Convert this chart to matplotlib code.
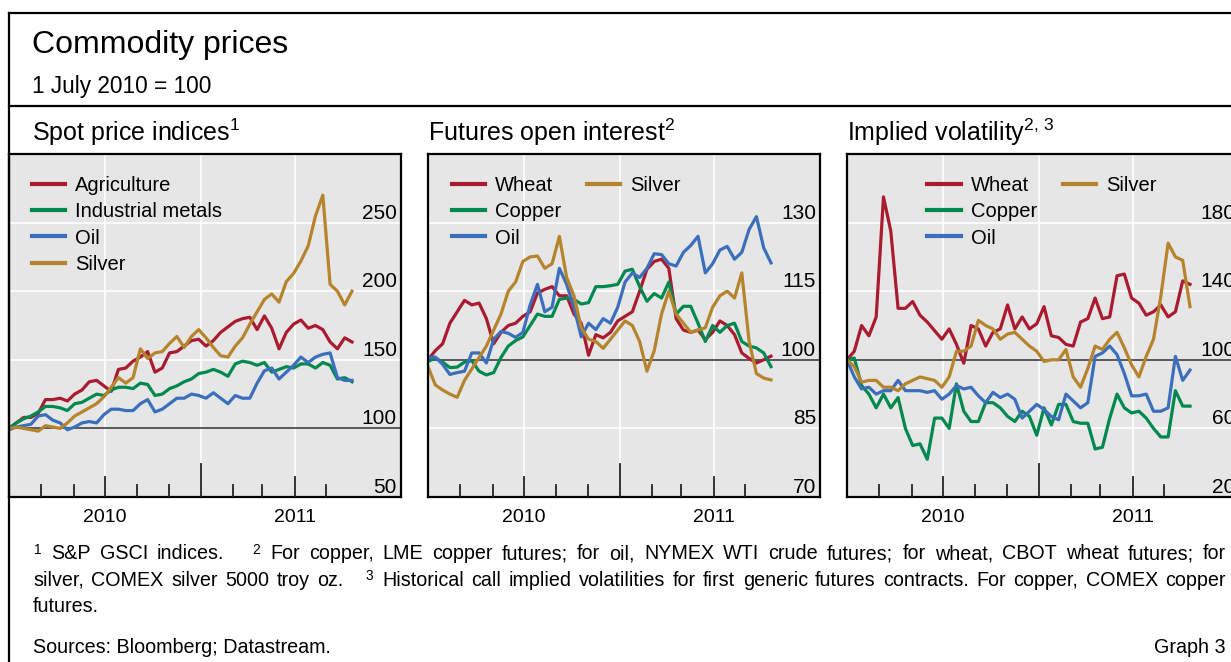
import matplotlib
matplotlib.use("Agg")
import matplotlib.pyplot as plt
import matplotlib.transforms as mtransforms
from matplotlib.lines import Line2D
import pandas as pd

plt.rcParams['font.family'] = ['Liberation Sans', 'DejaVu Sans']
plt.rcParams['mathtext.fontset'] = 'custom'
plt.rcParams['mathtext.rm'] = 'Liberation Sans'
plt.rcParams['mathtext.it'] = 'Liberation Sans:italic'
plt.rcParams['mathtext.bf'] = 'Liberation Sans:bold'

W, H = 1231, 662

# weekly observations, 1 July 2010 = 100
dates = pd.date_range("2010-07-01", periods=48, freq="7D")

# Spot price indices
spot_agriculture = [100, 104, 108, 108, 111, 121, 121, 122, 120, 125, 128, 134, 135, 131, 127, 143,
                    144, 149, 152, 156, 141, 144, 155, 156, 160, 164, 165, 160, 164, 170, 174, 178,
                    180, 181, 172, 182, 173, 158, 170, 176, 179, 173, 175, 172, 163, 158, 166, 163]
spot_metals = [100, 104, 107, 109, 112, 116, 116, 115, 113, 118, 119, 122, 125, 124, 128, 130,
               130, 129, 133, 132, 124, 125, 129, 131, 134, 136, 140, 141, 143, 141, 138, 147,
               149, 148, 146, 148, 141, 143, 145, 144, 147, 147, 144, 148, 146, 136, 137, 134]
spot_oil = [99, 101, 102, 103, 109, 110, 106, 104, 99, 101, 104, 105, 104, 110, 114, 114,
            113, 113, 118, 121, 112, 114, 118, 122, 122, 125, 124, 122, 126, 122, 118, 124,
            122, 122, 133, 142, 144, 136, 141, 146, 152, 148, 152, 154, 155, 137, 135, 135]
spot_silver = [100, 101, 100, 99, 98, 102, 101, 100, 104, 109, 112, 115, 118, 123, 130, 137,
               133, 137, 158, 151, 155, 156, 162, 167, 159, 167, 172, 166, 159, 153, 152, 160,
               166, 176, 185, 194, 198, 192, 207, 213, 222, 233, 255, 270, 205, 200, 190, 200]

# Futures open interest
oi_wheat = [100, 102, 103.5, 108, 110.5, 113, 112, 112.4, 109, 103.5, 106, 107.5, 108, 109.5, 110.5, 114.6,
            115.4, 116, 114, 114, 110, 108, 101, 105.5, 104.8, 106, 108.5, 109.5, 110.5, 115, 119.8, 121.5,
            122, 120, 109, 106.5, 106, 106.5, 104.4, 106, 108.5, 107.5, 105.5, 101.5, 100.3, 99.3, 100, 100.8]
oi_copper = [99.6, 100.4, 99.5, 98.3, 98.4, 99.5, 99.8, 97.5, 96.7, 97.2, 100.5, 103, 104.2, 105, 107.5, 110,
             109.5, 109.5, 113.2, 113.5, 113.2, 112.2, 112.5, 116, 116, 116.2, 116.5, 119.4, 119.8, 116, 112.8, 114.5,
             113.5, 117, 110, 111.7, 111.7, 108, 104, 107.5, 106, 107.5, 108, 104, 103, 102.6, 101.5, 98.5]
oi_oil = [100.4, 100.6, 99, 96.8, 97.2, 97.5, 101.5, 101.5, 99.3, 104.5, 106.2, 105.8, 104.9, 106, 112, 116.5,
          110.5, 111.5, 120, 116.5, 111.5, 105, 108, 106.6, 109, 108, 111.5, 117, 119, 118, 120, 123.2,
          123, 121, 120.5, 123.5, 125, 127, 119, 121, 124, 124.8, 122, 123.5, 128.5, 131.3, 124.5, 121.2]
oi_silver = [98.5, 94.5, 93.4, 92.5, 91.8, 95.5, 98, 100.5, 103, 106.5, 110, 115, 117, 121.5, 122.5, 122.7,
             120, 121, 127, 118, 114, 107, 104.5, 104, 102.5, 104.5, 106.5, 108.5, 107.5, 104, 97.5, 102,
             110, 115, 110, 108, 106, 106.5, 107, 111.5, 114, 115, 113.5, 119, 104, 97, 96, 95.6]

# Implied volatility
iv_wheat = [100, 105, 120, 114, 125, 195, 175, 130, 130, 134, 126, 122, 117, 112, 118, 109,
            98, 120, 118, 108, 116, 118, 132, 118, 125, 118, 121, 131, 114, 113, 109, 108,
            122, 124, 136, 124, 125, 149, 150, 136, 133, 126, 128, 132, 125, 128, 146, 144]
iv_copper = [100, 101, 85, 80, 72, 80, 72, 78, 60, 50, 51, 42, 66, 66, 60, 86,
             70, 64, 64, 75, 75, 72, 67, 64, 70, 67, 56, 72, 62, 74, 74, 64,
             63, 63, 48, 49, 66, 80, 72, 69, 70, 66, 60, 55, 55, 82, 73, 73]
iv_oil = [100, 90, 83, 84, 80, 82, 82, 88, 82, 82, 82, 81, 82, 77, 80, 85,
          83, 84, 79, 75, 81, 78, 80, 77, 66, 70, 74, 71, 67, 65, 80, 76,
          72, 75, 102, 104, 108, 103, 92, 79, 79, 80, 70, 70, 72, 102, 88, 94]
iv_silver = [100, 96, 87, 88, 88, 84, 84, 82, 86, 88, 90, 89, 88, 84, 90, 105,
             105, 108, 123, 120, 118, 112, 115, 116, 112, 108, 105, 99, 100, 100, 106, 90,
             84, 95, 108, 106, 112, 116, 107, 97, 90, 102, 112, 137, 168, 160, 158, 131]

panel_titles = [r"Spot price indices$^{1}$", r"Futures open interest$^{2}$",
                r"Implied volatility$^{2,\,3}$"]
yticks = [[50, 100, 150, 200, 250], [70, 85, 100, 115, 130], [20, 60, 100, 140, 180]]
ylims = [(50, 300), (70, 145), (20, 220)]
year_labels = ["2010", "2011"]

RED, GREEN, BLUE, GOLD = "#ab1b30", "#00894f", "#3b6fbc", "#b5842c"
BG = "#e6e6e6"

panels = [
    [("Agriculture", spot_agriculture, RED), ("Industrial metals", spot_metals, GREEN),
     ("Oil", spot_oil, BLUE), ("Silver", spot_silver, GOLD)],
    [("Wheat", oi_wheat, RED), ("Copper", oi_copper, GREEN),
     ("Oil", oi_oil, BLUE), ("Silver", oi_silver, GOLD)],
    [("Wheat", iv_wheat, RED), ("Copper", iv_copper, GREEN),
     ("Oil", iv_oil, BLUE), ("Silver", iv_silver, GOLD)],
]
lefts = [9, 428, 847]
legend_x = [0.058, 0.06, 0.205]

fig = plt.figure(figsize=(W / 100, H / 100), dpi=100)
fig.patch.set_facecolor("white")

month_ticks = pd.date_range("2010-08-01", "2011-05-01", freq="MS")
quarters = pd.to_datetime(["2010-10-01", "2011-01-01", "2011-04-01"])

for i, series in enumerate(panels):
    ax = fig.add_axes([lefts[i] / W, 1 - 497 / H, 392 / W, 343 / H])
    ax.set_facecolor(BG)
    for sp in ax.spines.values():
        sp.set_linewidth(1.6)
        sp.set_color("black")
    ax.set_xlim(pd.Timestamp("2010-07-01"), pd.Timestamp("2011-07-12"))
    ax.set_ylim(*ylims[i])
    ax.set_xticks([])
    ax.set_yticks([])

    trans_y = mtransforms.blended_transform_factory(ax.transAxes, ax.transData)
    trans_x = mtransforms.blended_transform_factory(ax.transData, ax.transAxes)
    for t in yticks[i]:
        if t == 100:
            ax.axhline(t, color="#333333", lw=1.1, zorder=1.5)
        elif t != ylims[i][0]:
            ax.axhline(t, color="white", lw=1.2, zorder=1)
        ax.text(1 - 4 / 392, t, str(t), transform=trans_y, ha="right", va="bottom",
                fontsize=15, color="black")
    for q in quarters:
        ax.axvline(q, color="white", lw=1.2, zorder=1)

    # bottom ticks: monthly short, quarterly medium, year long
    for m in month_ticks:
        if m.month == 1:
            h = 33 / 343
        elif m.month in (4, 10):
            h = 20 / 343
        else:
            h = 12 / 343
        ax.plot([m, m], [0, h], transform=trans_x, color="#222222", lw=1.3, zorder=3)

    ax.text(pd.Timestamp("2010-10-01"), -20 / 343, year_labels[0], transform=trans_x,
            ha="center", va="center", fontsize=14)
    ax.text(pd.Timestamp("2011-04-01"), -20 / 343, year_labels[1], transform=trans_x,
            ha="center", va="center", fontsize=14)

    handles = []
    for name, vals, col in series:
        ln, = ax.plot(dates, vals, color=col, lw=2.3, label=name, zorder=2,
                      solid_joinstyle="round")
        handles.append(ln)

    if i == 0:
        ncol = 1
    else:
        # pad so that the second column only holds Silver
        blank = Line2D([], [], color="none", label=" ")
        handles = handles + [blank, blank]
        ncol = 2
    leg = ax.legend(handles=handles, loc="upper left", bbox_to_anchor=(legend_x[i], 0.937),
                    ncol=ncol, frameon=False, fontsize=14.5, borderpad=0, borderaxespad=0,
                    handlelength=1.65, handletextpad=0.5, labelspacing=0.37, columnspacing=1.3)
    for lh in leg.get_lines():
        lh.set_linewidth(3)

# frame lines
for xs, ys in [([9, 9], [662, 13]), ([9, W], [13, 13]), ([9, W], [106, 106])]:
    fig.add_artist(Line2D([x / W for x in xs], [1 - y / H for y in ys],
                          transform=fig.transFigure, color="black", lw=1.6))

# titles
fig.text(32 / W, 1 - 53.5 / H, "Commodity prices", fontsize=23, va="baseline")
fig.text(32 / W, 1 - 93 / H, "1 July 2010 = 100", fontsize=16.3, va="baseline")
for i, title in enumerate(panel_titles):
    x = 32 if i == 0 else lefts[i]
    fig.text(x / W, 1 - 141.5 / H, title, fontsize=18, va="baseline")

# justified footnotes
renderer = fig.canvas.get_renderer()


def justified(y, parts, x0=33, x1=1226, size=14.2):
    items = [fig.text(0, 1 - y / H, t, fontsize=size, va="baseline") for t, _ in parts]
    widths = [it.get_window_extent(renderer).width for it in items]
    weights = [w for _, w in parts[1:]]
    gap = ((x1 - x0) - sum(widths)) / sum(weights)
    x = x0
    for k, it in enumerate(items):
        it.set_x(x / W)
        if k + 1 < len(items):
            x += widths[k] + gap * parts[k + 1][1]


def words(text, first_weight):
    out = []
    for k, w in enumerate(text.split(" ")):
        out.append((w, first_weight if k == 0 else 1))
    return out


line1 = ([(r"$^{1}$", 0)] + words("S&P GSCI indices.", 1) + [(r"$^{2}$", 3)]
         + words("For copper, LME copper futures; for oil, NYMEX WTI crude futures; "
                 "for wheat, CBOT wheat futures; for", 1))
line2 = (words("silver, COMEX silver 5000 troy oz.", 0) + [(r"$^{3}$", 3)]
         + words("Historical call implied volatilities for first generic futures contracts. "
                 "For copper, COMEX copper", 1))
justified(559, line1)
justified(586, line2)
fig.text(33 / W, 1 - 612 / H, "futures.", fontsize=14.2, va="baseline")
fig.text(33 / W, 1 - 653 / H, "Sources: Bloomberg; Datastream.", fontsize=14.2, va="baseline")
fig.text(1226 / W, 1 - 653 / H, "Graph 3", fontsize=14.2, va="baseline", ha="right")

fig.savefig("out.png", dpi=100)
